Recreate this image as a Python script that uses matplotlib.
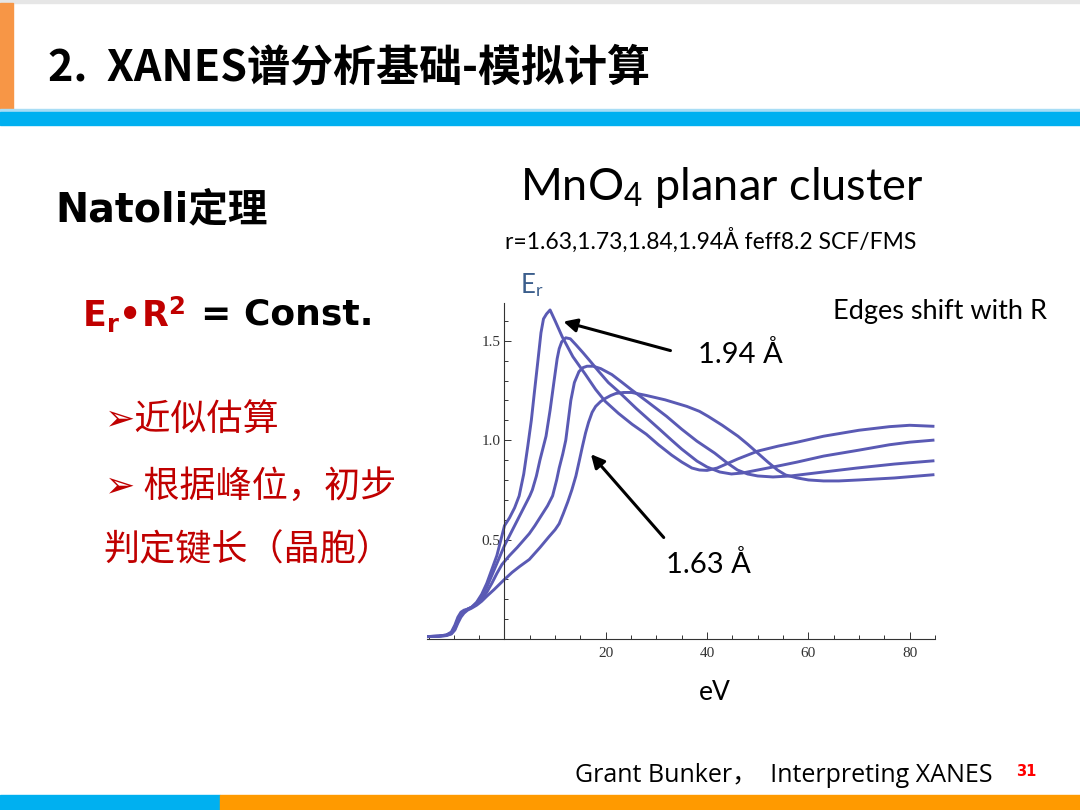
import matplotlib
matplotlib.use('Agg')
import matplotlib.pyplot as plt
from matplotlib.patches import Rectangle

# curve data (eV, E_r)
x_194 = [-15.3, -13, -11.5, -10.5, -9.8, -9.2, -8.6, -8.0, -7.3, -6.5, -5.5, -4.5, -3.5, -2.5, -1.5,
         -0.5, 0, 1, 2, 2.9, 3.8, 4.6, 5.3, 5.9, 6.6, 7.2, 7.7, 8.3, 9.0, 10, 11.4, 13.5, 16, 18,
         19.9, 22.5, 25.2, 28, 30.4, 33, 35, 37, 38.5, 40, 42, 46, 50, 54, 57.8, 63, 70, 76, 80, 84.6]
y_194 = [0.012, 0.015, 0.02, 0.035, 0.07, 0.11, 0.135, 0.145, 0.15, 0.16, 0.185, 0.225, 0.28, 0.35, 0.42,
         0.52, 0.57, 0.61, 0.66, 0.72, 0.83, 0.97, 1.10, 1.24, 1.40, 1.54, 1.61, 1.635, 1.655, 1.60, 1.52,
         1.42, 1.33, 1.255, 1.195, 1.135, 1.08, 1.03, 0.977, 0.925, 0.89, 0.86, 0.85, 0.848, 0.86, 0.905,
         0.945, 0.97, 0.99, 1.02, 1.05, 1.068, 1.075, 1.07]

x_184 = [-15.3, -13, -11.5, -10.5, -9.8, -9.2, -8.6, -8.0, -7.3, -6.5, -5.5, -4.5, -3.5, -2.5, -1.5,
         -0.5, 0, 1, 2, 3, 4, 5, 5.5, 6.3, 7, 7.6, 8.2, 9.0, 9.8, 10.4, 10.8, 11.3, 12.1, 13.0, 14.1,
         15.5, 17, 18.6, 20.5, 22.5, 26, 30.4, 33, 35, 38, 40, 42.5, 44.8, 47, 50, 54, 57.8, 63, 70,
         76, 80, 84.6]
y_184 = [0.012, 0.015, 0.02, 0.03, 0.06, 0.10, 0.125, 0.14, 0.15, 0.158, 0.18, 0.215, 0.26, 0.32, 0.38,
         0.44, 0.47, 0.52, 0.57, 0.62, 0.67, 0.72, 0.75, 0.82, 0.90, 0.96, 1.02, 1.15, 1.30, 1.41, 1.46,
         1.495, 1.515, 1.51, 1.48, 1.44, 1.395, 1.346, 1.29, 1.245, 1.16, 1.06, 1.0, 0.955, 0.895, 0.865,
         0.84, 0.83, 0.835, 0.85, 0.87, 0.89, 0.92, 0.95, 0.977, 0.99, 1.0]

x_173 = [-15.3, -13, -11.5, -10.5, -9.8, -9.2, -8.6, -8.0, -7.3, -6.5, -5.5, -4.5, -3.5, -2.5, -1.5,
         -0.5, 0, 1, 2.5, 4.9, 6, 7.5, 8.5, 9.5, 10.3, 10.8, 11.5, 12.1, 12.6, 13.1, 13.8, 14.7, 15.5,
         16.3, 17.5, 19, 21.2, 23, 25, 28.4, 32, 35, 38, 41.5, 44, 46, 48, 50, 53, 56.5, 63, 69.6, 77, 84.6]
y_173 = [0.012, 0.014, 0.018, 0.028, 0.05, 0.09, 0.12, 0.135, 0.15, 0.16, 0.175, 0.20, 0.235, 0.28, 0.33,
         0.375, 0.39, 0.42, 0.46, 0.53, 0.57, 0.63, 0.67, 0.72, 0.80, 0.86, 0.93, 1.0, 1.10, 1.20, 1.29,
         1.345, 1.365, 1.372, 1.372, 1.36, 1.33, 1.295, 1.255, 1.19, 1.12, 1.055, 0.995, 0.935, 0.885,
         0.85, 0.83, 0.82, 0.815, 0.82, 0.84, 0.86, 0.88, 0.896]

x_163 = [-15.3, -13, -11.5, -10.5, -9.8, -9.2, -8.6, -8.0, -7.3, -6.5, -5.5, -4.5, -3.5, -2, -1, 0,
         1.5, 3, 4.9, 7, 8.8, 10, 10.8, 11.6, 12.5, 13.3, 14.1, 14.8, 15.4, 16, 16.6, 17.3, 18.0, 19,
         19.9, 21, 22, 23.5, 25.1, 28, 31.7, 36, 38.5, 40.2, 43, 46.1, 48, 50, 52, 53.9, 55.5, 57.8, 60,
         63, 66, 70, 77, 84.6]
y_163 = [0.012, 0.013, 0.017, 0.025, 0.045, 0.08, 0.11, 0.13, 0.145, 0.155, 0.17, 0.19, 0.215, 0.25,
         0.275, 0.30, 0.335, 0.365, 0.40, 0.46, 0.515, 0.55, 0.58, 0.63, 0.69, 0.75, 0.82, 0.90, 0.97,
         1.036, 1.09, 1.14, 1.17, 1.195, 1.21, 1.225, 1.235, 1.24, 1.24, 1.225, 1.203, 1.17, 1.145, 1.12,
         1.075, 1.02, 0.98, 0.935, 0.89, 0.85, 0.825, 0.81, 0.80, 0.795, 0.795, 0.80, 0.81, 0.826]

curves = [(x_194, y_194), (x_184, y_184), (x_173, y_173), (x_163, y_163)]

x_major = [20, 40, 60, 80]
x_minor = [-15, -10, -5, 5, 10, 15, 25, 30, 35, 45, 50, 55, 65, 70, 75, 85]
y_major = [0.5, 1.0, 1.5]
y_minor = [0.1, 0.2, 0.3, 0.4, 0.6, 0.7, 0.8, 0.9, 1.1, 1.2, 1.3, 1.4, 1.6]

RED = '#C00000'
BLUE_BAR = '#00B0F0'
LINE = '#5A5AB4'

plt.rcParams['mathtext.fontset'] = 'custom'
plt.rcParams['mathtext.rm'] = 'Lato'
plt.rcParams['mathtext.it'] = 'Lato:italic'
plt.rcParams['mathtext.bf'] = 'DejaVu Sans:bold'

W, H = 1080, 810
fig = plt.figure(figsize=(10.8, 8.1), dpi=100)


def fx(x):
    return x / W


def fy(y):
    return 1 - y / H


def box(x0, y0, x1, y1, color):
    fig.patches.append(Rectangle((fx(x0), fy(y1)), (x1 - x0) / W, (y1 - y0) / H,
                                 transform=fig.transFigure, color=color, zorder=0))


# slide decoration
box(0, 0, 1080, 3, '#E6E6E6')
box(0, 3, 13, 110, '#F79646')
box(0, 109, 1080, 112, '#A8DDF5')
box(0, 112, 1080, 125, BLUE_BAR)
box(0, 795, 220, 810, BLUE_BAR)
box(220, 795, 1080, 810, '#FF9A00')

fig.text(fx(48), fy(67), '2.  XANES谱分析基础-模拟计算', fontsize=31, fontweight='bold',
         family=['Noto Sans CJK SC', 'DejaVu Sans'], va='center')

fig.text(fx(55), fy(210), 'Natoli定理', fontsize=28.5, fontweight='bold',
         family=['DejaVu Sans', 'Noto Sans CJK SC'], va='center')

fig.text(fx(82), fy(315), r'E$_\mathbf{r}$•R$^\mathbf{2}$', fontsize=25, fontweight='bold',
         family='DejaVu Sans', color=RED, va='center')
fig.text(fx(201), fy(315), '= Const.', fontsize=26, fontweight='bold',
         family='DejaVu Sans', va='center')

cjk = ['Noto Sans CJK SC', 'DejaVu Sans']
fig.text(fx(105), fy(420), '➢近似估算', fontsize=26, family=cjk, color=RED, va='center')
fig.text(fx(105), fy(487), '➢ 根据峰位，初步', fontsize=26, family=cjk, color=RED, va='center')
fig.text(fx(103), fy(550), '判定键长（晶胞）', fontsize=26, family=cjk, color=RED, va='center')

# chart headings
fig.text(fx(520), fy(187), r'MnO$_\mathrm{4}$ planar cluster', fontsize=32.5, family='Lato', va='center')
fig.text(fx(505), fy(240), 'r=1.63,1.73,1.84,1.94Å feff8.2 SCF/FMS', fontsize=16.5, family='Lato',
         va='center')
fig.text(fx(833), fy(312), 'Edges shift with R', fontsize=19.5, family='Lato', va='center')
fig.text(fx(520), fy(285), r'E$_\mathrm{r}$', fontsize=18.5, family='Lato', color='#3B5E8C', va='center')
fig.text(fx(699), fy(692), 'eV', fontsize=19, family='Lato', va='center')

fig.text(fx(575), fy(775), 'Grant Bunker，  Interpreting XANES', fontsize=18,
         family=['Open Sans', 'Noto Sans CJK SC'], va='center')
fig.text(fx(1016), fy(772), '31', fontsize=10.5, fontweight='bold', color='#FF0000',
         family='DejaVu Sans', va='center')

# the plot itself, Mathematica-like axes through the origin
ax = fig.add_axes([fx(427), fy(639), (935 - 427) / W, (639 - 303) / H])
ax.patch.set_alpha(0)
for xs, ys in curves:
    ax.plot(xs, ys, color=LINE, lw=2.1, solid_joinstyle='round')

ax.set_xlim(-15.3, 84.3)
ax.set_ylim(0, 1.69)
ax.spines['top'].set_visible(False)
ax.spines['right'].set_visible(False)
ax.spines['left'].set_position(('data', 0))
for s in ['left', 'bottom']:
    ax.spines[s].set_color('#333333')
    ax.spines[s].set_linewidth(0.8)
ax.set_xticks(x_major)
ax.set_xticks(x_minor, minor=True)
ax.set_yticks(y_major)
ax.set_yticks(y_minor, minor=True)
ax.set_yticklabels(['0.5', '1.0', '1.5'])
ax.tick_params(which='both', direction='in', color='#333333', width=0.7,
               labelsize=11, labelcolor='#333333')
ax.tick_params(which='major', length=5)
ax.tick_params(which='minor', length=3)
ax.tick_params(axis='y', pad=3)
ax.tick_params(axis='x', pad=6)
for lab in ax.get_xticklabels() + ax.get_yticklabels():
    lab.set_family('Liberation Serif')

ax.annotate('', xy=(11.1, 1.60), xytext=(33.3, 1.447),
            arrowprops=dict(arrowstyle='-|>', color='black', lw=2.2, mutation_scale=20))
ax.annotate('', xy=(16.7, 0.94), xytext=(31.8, 0.50),
            arrowprops=dict(arrowstyle='-|>', color='black', lw=2.2, mutation_scale=20))
ax.text(38.2, 1.43, '1.94 Å', fontsize=21, family='Lato', va='center', clip_on=False)
ax.text(31.8, 0.373, '1.63 Å', fontsize=21, family='Lato', va='center', clip_on=False)

fig.savefig('out.png', dpi=100)
